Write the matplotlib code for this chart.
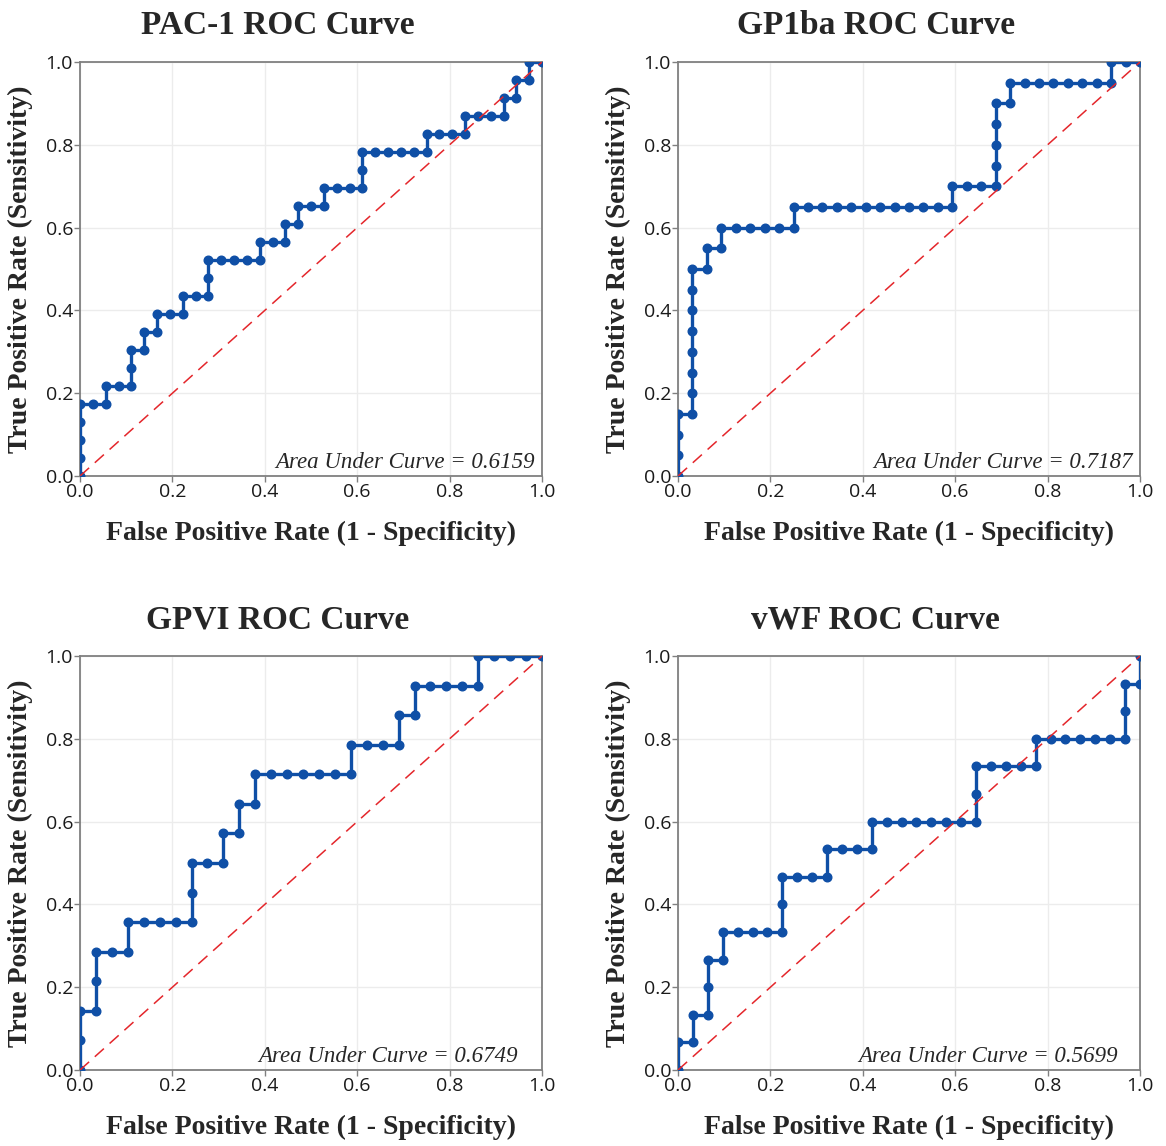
import numpy as np
import matplotlib
matplotlib.use("Agg")
import matplotlib.pyplot as plt

# ROC operating points as cumulative counts (false positives, true positives)
titles = ["PAC-1 ROC Curve", "GP1ba ROC Curve", "GPVI ROC Curve", "vWF ROC Curve"]
auc = [0.6159, 0.7187, 0.6749, 0.5699]
n_neg = [36, 32, 29, 31]
n_pos = [23, 20, 14, 15]

pac1_fp = [0, 0, 0, 0, 0, 1, 2, 2, 3, 4, 4, 4, 5, 5, 6, 6, 7, 8, 8, 9, 10, 10, 10, 11, 12, 13, 14, 14, 15, 16,
           16, 17, 17, 18, 19, 19, 20, 21, 22, 22, 22, 23, 24, 25, 26, 27, 27, 28, 29, 30, 30, 31, 32, 33, 33, 34,
           34, 35, 35, 36]
pac1_tp = [0, 1, 2, 3, 4, 4, 4, 5, 5, 5, 6, 7, 7, 8, 8, 9, 9, 9, 10, 10, 10, 11, 12, 12, 12, 12, 12, 13, 13, 13,
           14, 14, 15, 15, 15, 16, 16, 16, 16, 17, 18, 18, 18, 18, 18, 18, 19, 19, 19, 19, 20, 20, 20, 20, 21, 21,
           22, 22, 23, 23]

gp1ba_fp = [0, 0, 0, 0, 1, 1, 1, 1, 1, 1, 1, 1, 2, 2, 3, 3, 4, 5, 6, 7, 8, 8, 9, 10, 11, 12, 13, 14, 15, 16,
            17, 18, 19, 19, 20, 21, 22, 22, 22, 22, 22, 23, 23, 24, 25, 26, 27, 28, 29, 30, 30, 31, 32]
gp1ba_tp = [0, 1, 2, 3, 3, 4, 5, 6, 7, 8, 9, 10, 10, 11, 11, 12, 12, 12, 12, 12, 12, 13, 13, 13, 13, 13, 13, 13,
            13, 13, 13, 13, 13, 14, 14, 14, 14, 15, 16, 17, 18, 18, 19, 19, 19, 19, 19, 19, 19, 19, 20, 20, 20]

gpvi_fp = [0, 0, 0, 1, 1, 1, 2, 3, 3, 4, 5, 6, 7, 7, 7, 8, 9, 9, 10, 10, 11, 11, 12, 13, 14, 15, 16, 17, 17, 18,
           19, 20, 20, 21, 21, 22, 23, 24, 25, 25, 26, 27, 28, 29]
gpvi_tp = [0, 1, 2, 2, 3, 4, 4, 4, 5, 5, 5, 5, 5, 6, 7, 7, 7, 8, 8, 9, 9, 10, 10, 10, 10, 10, 10, 10, 11, 11,
           11, 11, 12, 12, 13, 13, 13, 13, 13, 14, 14, 14, 14, 14]

vwf_fp = [0, 0, 1, 1, 2, 2, 2, 3, 3, 4, 5, 6, 7, 7, 7, 8, 9, 10, 10, 11, 12, 13, 13, 14, 15, 16, 17, 18, 19, 20,
          20, 20, 21, 22, 23, 24, 24, 25, 26, 27, 28, 29, 30, 30, 30, 31, 31]
vwf_tp = [0, 1, 1, 2, 2, 3, 4, 4, 5, 5, 5, 5, 5, 6, 7, 7, 7, 7, 8, 8, 8, 8, 9, 9, 9, 9, 9, 9, 9, 9,
          10, 11, 11, 11, 11, 11, 12, 12, 12, 12, 12, 12, 12, 13, 14, 14, 15]

fp_counts = [pac1_fp, gp1ba_fp, gpvi_fp, vwf_fp]
tp_counts = [pac1_tp, gp1ba_tp, gpvi_tp, vwf_tp]
ticks = [0.0, 0.2, 0.4, 0.6, 0.8, 1.0]

# layout
W, H = 1166, 1146
ax_w, ax_h = 462, 414
ax_left = [80, 678, 80, 678]
ax_top = [62, 62, 656, 656]
auc_x = [0.985, 0.985, 0.948, 0.952]

blue = "#0f4fa6"
red = "#e4262b"
grey = "#808080"
text_col = "#262626"

fig = plt.figure(figsize=(W / 100, H / 100), dpi=100)

for i in range(4):
    ax = fig.add_axes([ax_left[i] / W, 1 - (ax_top[i] + ax_h) / H, ax_w / W, ax_h / H])
    fpr = np.array(fp_counts[i]) / n_neg[i]
    tpr = np.array(tp_counts[i]) / n_pos[i]

    ax.plot(fpr, tpr, color=blue, lw=2.4, marker="o", ms=6.2, zorder=3)
    ax.plot([0, 1], [0, 1], color=red, lw=1.1, dashes=(8, 5), zorder=4)

    ax.set_xlim(0, 1)
    ax.set_ylim(0, 1)
    ax.set_xticks(ticks)
    ax.set_yticks(ticks)
    ax.set_xticklabels([f"{t:.1f}" for t in ticks], family="Open Sans", fontsize=14, color="#1a1a1a")
    ax.set_yticklabels([f"{t:.1f}" for t in ticks], family="Open Sans", fontsize=14, color="#1a1a1a")
    ax.tick_params(length=4, width=1, color=grey, pad=1)
    ax.grid(True, color="#ececec", lw=1)
    ax.set_axisbelow(True)
    for s in ax.spines.values():
        s.set_color(grey)
        s.set_linewidth(1.3)

    ax.set_title(titles[i], family="Liberation Serif", fontweight="bold", fontsize=24,
                 color=text_col, x=0.428, pad=20)
    ax.set_xlabel("False Positive Rate (1 - Specificity)", family="Liberation Serif",
                  fontweight="bold", fontsize=20, color=text_col, labelpad=14)
    ax.set_ylabel("True Positive Rate (Sensitivity)", family="Liberation Serif",
                  fontweight="bold", fontsize=20, color=text_col, labelpad=9)
    ax.text(auc_x[i], 0.02, f"Area Under Curve = {auc[i]:.4f}", transform=ax.transAxes,
            ha="right", va="baseline", family="Liberation Serif", style="italic",
            fontsize=16.5, color=text_col, zorder=5)

fig.savefig("out.png", dpi=100)
